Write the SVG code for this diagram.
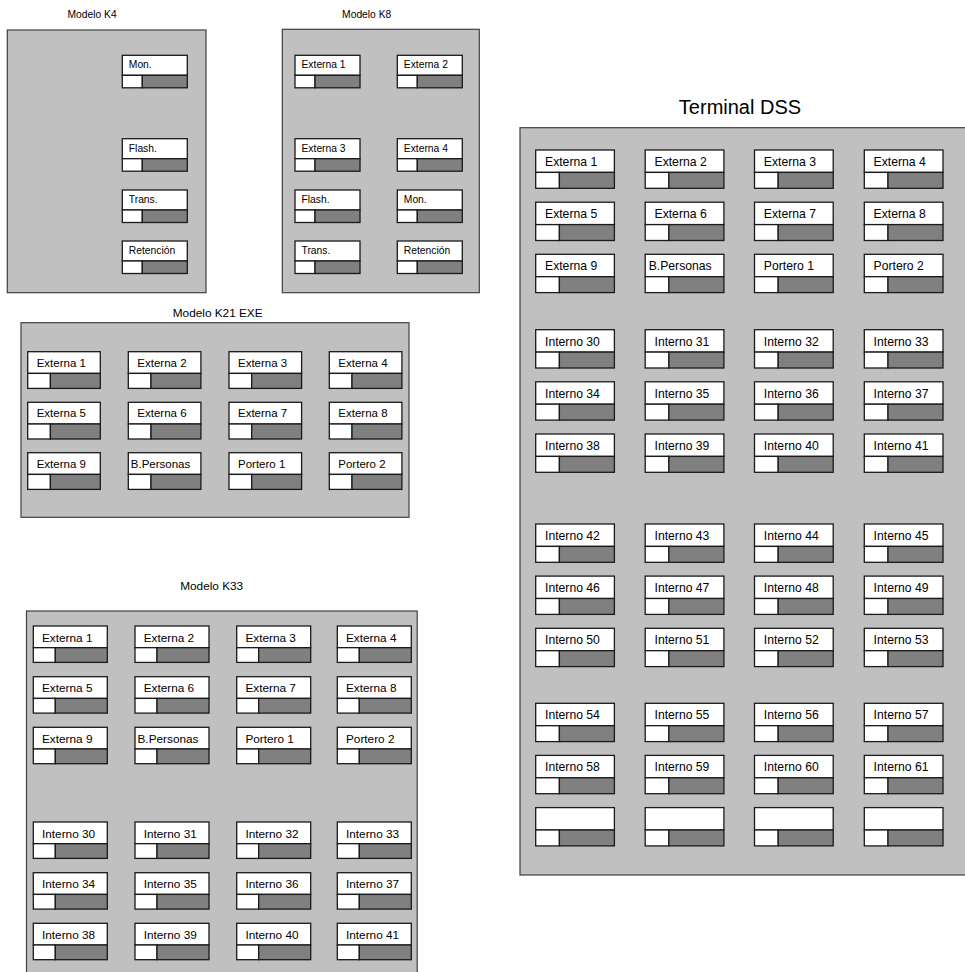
<svg xmlns="http://www.w3.org/2000/svg" xmlns:xlink="http://www.w3.org/1999/xlink" width="965" height="972" viewBox="0 0 965 972">
<style>
.panel{fill:#c0c0c0;stroke:#404040;stroke-width:1.2}
.lab{fill:#ffffff;stroke:#1a1a1a;stroke-width:1.3}
.bar{fill:#808080;stroke:#1a1a1a;stroke-width:1.3}
text{font-family:"Liberation Sans",Arial,sans-serif;fill:#000}
.t4{font-size:10.3px}
.t21{font-size:11.5px}
.t33{font-size:11.8px}
.tD{font-size:12.2px}
.title{font-size:10.3px;text-anchor:middle}
.title2{font-size:11.8px;text-anchor:middle}
.bigtitle{font-size:20px;text-anchor:middle}
</style>
<defs>
<g id="bK4"><rect class="lab" x="0" y="0" width="65" height="20"/><rect class="lab" x="0" y="20" width="20" height="12.5"/><rect class="bar" x="20" y="20" width="45" height="12.5"/></g>
<g id="bK21"><rect class="lab" x="0" y="0" width="72.6" height="21.7"/><rect class="lab" x="0" y="21.7" width="22.7" height="15"/><rect class="bar" x="22.7" y="21.7" width="49.9" height="15"/></g>
<g id="bK33"><rect class="lab" x="0" y="0" width="74" height="21.7"/><rect class="lab" x="0" y="21.7" width="22" height="14.7"/><rect class="bar" x="22" y="21.7" width="52" height="14.7"/></g>
<g id="bD"><rect class="lab" x="0" y="0" width="78.7" height="22.4"/><rect class="lab" x="0" y="22.4" width="23.7" height="15.9"/><rect class="bar" x="23.7" y="22.4" width="55" height="15.9"/></g>
</defs>

<g id="K4">
<text class="title" x="92" y="18">Modelo K4</text>
<rect class="panel" x="7.3" y="30" width="198.7" height="262.7"/>
<g id="K4-mon" transform="translate(122.3,55.3)"><use xlink:href="#bK4"/><text class="t4" x="6.5" y="13">Mon.</text></g>
<g id="K4-flash" transform="translate(122.3,138.7)"><use xlink:href="#bK4"/><text class="t4" x="6.5" y="13">Flash.</text></g>
<g id="K4-trans" transform="translate(122.3,190)"><use xlink:href="#bK4"/><text class="t4" x="6.5" y="13">Trans.</text></g>
<g id="K4-ret" transform="translate(122.3,241)"><use xlink:href="#bK4"/><text class="t4" x="6.5" y="13">Retención</text></g>
</g>

<g id="K8">
<text class="title" x="366.7" y="18">Modelo K8</text>
<rect class="panel" x="282.3" y="29.3" width="197" height="263.4"/>
<g id="K8-e1" transform="translate(295,55.3)"><use xlink:href="#bK4"/><text class="t4" x="6.5" y="13">Externa 1</text></g>
<g id="K8-e2" transform="translate(397.3,55.3)"><use xlink:href="#bK4"/><text class="t4" x="6.5" y="13">Externa 2</text></g>
<g id="K8-e3" transform="translate(295,138.7)"><use xlink:href="#bK4"/><text class="t4" x="6.5" y="13">Externa 3</text></g>
<g id="K8-e4" transform="translate(397.3,138.7)"><use xlink:href="#bK4"/><text class="t4" x="6.5" y="13">Externa 4</text></g>
<g id="K8-flash" transform="translate(295,190)"><use xlink:href="#bK4"/><text class="t4" x="6.5" y="13">Flash.</text></g>
<g id="K8-mon" transform="translate(397.3,190)"><use xlink:href="#bK4"/><text class="t4" x="6.5" y="13">Mon.</text></g>
<g id="K8-trans" transform="translate(295,241)"><use xlink:href="#bK4"/><text class="t4" x="6.5" y="13">Trans.</text></g>
<g id="K8-ret" transform="translate(397.3,241)"><use xlink:href="#bK4"/><text class="t4" x="6.5" y="13">Retención</text></g>
</g>

<g id="K21">
<text class="title2" x="217.7" y="316.5">Modelo K21 EXE</text>
<rect class="panel" x="21" y="322.7" width="388" height="194.6"/>
<g id="K21-e1" transform="translate(27.7,351.7)"><use xlink:href="#bK21"/><text class="t21" x="9" y="15">Externa 1</text></g>
<g id="K21-e2" transform="translate(128.3,351.7)"><use xlink:href="#bK21"/><text class="t21" x="9" y="15">Externa 2</text></g>
<g id="K21-e3" transform="translate(229,351.7)"><use xlink:href="#bK21"/><text class="t21" x="9" y="15">Externa 3</text></g>
<g id="K21-e4" transform="translate(329.3,351.7)"><use xlink:href="#bK21"/><text class="t21" x="9" y="15">Externa 4</text></g>
<g id="K21-e5" transform="translate(27.7,402.3)"><use xlink:href="#bK21"/><text class="t21" x="9" y="15">Externa 5</text></g>
<g id="K21-e6" transform="translate(128.3,402.3)"><use xlink:href="#bK21"/><text class="t21" x="9" y="15">Externa 6</text></g>
<g id="K21-e7" transform="translate(229,402.3)"><use xlink:href="#bK21"/><text class="t21" x="9" y="15">Externa 7</text></g>
<g id="K21-e8" transform="translate(329.3,402.3)"><use xlink:href="#bK21"/><text class="t21" x="9" y="15">Externa 8</text></g>
<g id="K21-e9" transform="translate(27.7,452.7)"><use xlink:href="#bK21"/><text class="t21" x="9" y="15">Externa 9</text></g>
<g id="K21-bp" transform="translate(128.3,452.7)"><use xlink:href="#bK21"/><text class="t21" x="2.5" y="15">B.Personas</text></g>
<g id="K21-p1" transform="translate(229,452.7)"><use xlink:href="#bK21"/><text class="t21" x="9" y="15">Portero 1</text></g>
<g id="K21-p2" transform="translate(329.3,452.7)"><use xlink:href="#bK21"/><text class="t21" x="9" y="15">Portero 2</text></g>
</g>

<g id="K33">
<text class="title2" x="211.7" y="590">Modelo K33</text>
<rect class="panel" x="26.5" y="611" width="390.7" height="400"/>
<g id="K33-e1" transform="translate(33.3,626)"><use xlink:href="#bK33"/><text class="t33" x="8.7" y="15.7">Externa 1</text></g>
<g id="K33-e2" transform="translate(135,626)"><use xlink:href="#bK33"/><text class="t33" x="8.7" y="15.7">Externa 2</text></g>
<g id="K33-e3" transform="translate(236.7,626)"><use xlink:href="#bK33"/><text class="t33" x="8.7" y="15.7">Externa 3</text></g>
<g id="K33-e4" transform="translate(337.3,626)"><use xlink:href="#bK33"/><text class="t33" x="8.7" y="15.7">Externa 4</text></g>
<g id="K33-e5" transform="translate(33.3,676.7)"><use xlink:href="#bK33"/><text class="t33" x="8.7" y="15.7">Externa 5</text></g>
<g id="K33-e6" transform="translate(135,676.7)"><use xlink:href="#bK33"/><text class="t33" x="8.7" y="15.7">Externa 6</text></g>
<g id="K33-e7" transform="translate(236.7,676.7)"><use xlink:href="#bK33"/><text class="t33" x="8.7" y="15.7">Externa 7</text></g>
<g id="K33-e8" transform="translate(337.3,676.7)"><use xlink:href="#bK33"/><text class="t33" x="8.7" y="15.7">Externa 8</text></g>
<g id="K33-e9" transform="translate(33.3,727.3)"><use xlink:href="#bK33"/><text class="t33" x="8.7" y="15.7">Externa 9</text></g>
<g id="K33-bp" transform="translate(135,727.3)"><use xlink:href="#bK33"/><text class="t33" x="2.5" y="15.7">B.Personas</text></g>
<g id="K33-p1" transform="translate(236.7,727.3)"><use xlink:href="#bK33"/><text class="t33" x="8.7" y="15.7">Portero 1</text></g>
<g id="K33-p2" transform="translate(337.3,727.3)"><use xlink:href="#bK33"/><text class="t33" x="8.7" y="15.7">Portero 2</text></g>
<g id="K33-i30" transform="translate(33.3,822)"><use xlink:href="#bK33"/><text class="t33" x="8.7" y="15.7">Interno 30</text></g>
<g id="K33-i31" transform="translate(135,822)"><use xlink:href="#bK33"/><text class="t33" x="8.7" y="15.7">Interno 31</text></g>
<g id="K33-i32" transform="translate(236.7,822)"><use xlink:href="#bK33"/><text class="t33" x="8.7" y="15.7">Interno 32</text></g>
<g id="K33-i33" transform="translate(337.3,822)"><use xlink:href="#bK33"/><text class="t33" x="8.7" y="15.7">Interno 33</text></g>
<g id="K33-i34" transform="translate(33.3,872.7)"><use xlink:href="#bK33"/><text class="t33" x="8.7" y="15.7">Interno 34</text></g>
<g id="K33-i35" transform="translate(135,872.7)"><use xlink:href="#bK33"/><text class="t33" x="8.7" y="15.7">Interno 35</text></g>
<g id="K33-i36" transform="translate(236.7,872.7)"><use xlink:href="#bK33"/><text class="t33" x="8.7" y="15.7">Interno 36</text></g>
<g id="K33-i37" transform="translate(337.3,872.7)"><use xlink:href="#bK33"/><text class="t33" x="8.7" y="15.7">Interno 37</text></g>
<g id="K33-i38" transform="translate(33.3,923.3)"><use xlink:href="#bK33"/><text class="t33" x="8.7" y="15.7">Interno 38</text></g>
<g id="K33-i39" transform="translate(135,923.3)"><use xlink:href="#bK33"/><text class="t33" x="8.7" y="15.7">Interno 39</text></g>
<g id="K33-i40" transform="translate(236.7,923.3)"><use xlink:href="#bK33"/><text class="t33" x="8.7" y="15.7">Interno 40</text></g>
<g id="K33-i41" transform="translate(337.3,923.3)"><use xlink:href="#bK33"/><text class="t33" x="8.7" y="15.7">Interno 41</text></g>
</g>

<g id="DSS">
<text class="bigtitle" x="740" y="114">Terminal DSS</text>
<rect class="panel" x="520" y="127.7" width="460" height="747.3"/>
<g id="D-e1" transform="translate(535.7,150)"><use xlink:href="#bD"/><text class="tD" x="9.3" y="16">Externa 1</text></g>
<g id="D-e2" transform="translate(645.2,150)"><use xlink:href="#bD"/><text class="tD" x="9.3" y="16">Externa 2</text></g>
<g id="D-e3" transform="translate(754.5,150)"><use xlink:href="#bD"/><text class="tD" x="9.3" y="16">Externa 3</text></g>
<g id="D-e4" transform="translate(864.3,150)"><use xlink:href="#bD"/><text class="tD" x="9.3" y="16">Externa 4</text></g>
<g id="D-e5" transform="translate(535.7,202.2)"><use xlink:href="#bD"/><text class="tD" x="9.3" y="16">Externa 5</text></g>
<g id="D-e6" transform="translate(645.2,202.2)"><use xlink:href="#bD"/><text class="tD" x="9.3" y="16">Externa 6</text></g>
<g id="D-e7" transform="translate(754.5,202.2)"><use xlink:href="#bD"/><text class="tD" x="9.3" y="16">Externa 7</text></g>
<g id="D-e8" transform="translate(864.3,202.2)"><use xlink:href="#bD"/><text class="tD" x="9.3" y="16">Externa 8</text></g>
<g id="D-e9" transform="translate(535.7,254.3)"><use xlink:href="#bD"/><text class="tD" x="9.3" y="16">Externa 9</text></g>
<g id="D-bp" transform="translate(645.2,254.3)"><use xlink:href="#bD"/><text class="tD" x="3.5" y="16">B.Personas</text></g>
<g id="D-p1" transform="translate(754.5,254.3)"><use xlink:href="#bD"/><text class="tD" x="9.3" y="16">Portero 1</text></g>
<g id="D-p2" transform="translate(864.3,254.3)"><use xlink:href="#bD"/><text class="tD" x="9.3" y="16">Portero 2</text></g>
<g id="D-i30" transform="translate(535.7,329.7)"><use xlink:href="#bD"/><text class="tD" x="9.3" y="16">Interno 30</text></g>
<g id="D-i31" transform="translate(645.2,329.7)"><use xlink:href="#bD"/><text class="tD" x="9.3" y="16">Interno 31</text></g>
<g id="D-i32" transform="translate(754.5,329.7)"><use xlink:href="#bD"/><text class="tD" x="9.3" y="16">Interno 32</text></g>
<g id="D-i33" transform="translate(864.3,329.7)"><use xlink:href="#bD"/><text class="tD" x="9.3" y="16">Interno 33</text></g>
<g id="D-i34" transform="translate(535.7,381.8)"><use xlink:href="#bD"/><text class="tD" x="9.3" y="16">Interno 34</text></g>
<g id="D-i35" transform="translate(645.2,381.8)"><use xlink:href="#bD"/><text class="tD" x="9.3" y="16">Interno 35</text></g>
<g id="D-i36" transform="translate(754.5,381.8)"><use xlink:href="#bD"/><text class="tD" x="9.3" y="16">Interno 36</text></g>
<g id="D-i37" transform="translate(864.3,381.8)"><use xlink:href="#bD"/><text class="tD" x="9.3" y="16">Interno 37</text></g>
<g id="D-i38" transform="translate(535.7,434)"><use xlink:href="#bD"/><text class="tD" x="9.3" y="16">Interno 38</text></g>
<g id="D-i39" transform="translate(645.2,434)"><use xlink:href="#bD"/><text class="tD" x="9.3" y="16">Interno 39</text></g>
<g id="D-i40" transform="translate(754.5,434)"><use xlink:href="#bD"/><text class="tD" x="9.3" y="16">Interno 40</text></g>
<g id="D-i41" transform="translate(864.3,434)"><use xlink:href="#bD"/><text class="tD" x="9.3" y="16">Interno 41</text></g>
<g id="D-i42" transform="translate(535.7,524)"><use xlink:href="#bD"/><text class="tD" x="9.3" y="16">Interno 42</text></g>
<g id="D-i43" transform="translate(645.2,524)"><use xlink:href="#bD"/><text class="tD" x="9.3" y="16">Interno 43</text></g>
<g id="D-i44" transform="translate(754.5,524)"><use xlink:href="#bD"/><text class="tD" x="9.3" y="16">Interno 44</text></g>
<g id="D-i45" transform="translate(864.3,524)"><use xlink:href="#bD"/><text class="tD" x="9.3" y="16">Interno 45</text></g>
<g id="D-i46" transform="translate(535.7,576.1)"><use xlink:href="#bD"/><text class="tD" x="9.3" y="16">Interno 46</text></g>
<g id="D-i47" transform="translate(645.2,576.1)"><use xlink:href="#bD"/><text class="tD" x="9.3" y="16">Interno 47</text></g>
<g id="D-i48" transform="translate(754.5,576.1)"><use xlink:href="#bD"/><text class="tD" x="9.3" y="16">Interno 48</text></g>
<g id="D-i49" transform="translate(864.3,576.1)"><use xlink:href="#bD"/><text class="tD" x="9.3" y="16">Interno 49</text></g>
<g id="D-i50" transform="translate(535.7,628.3)"><use xlink:href="#bD"/><text class="tD" x="9.3" y="16">Interno 50</text></g>
<g id="D-i51" transform="translate(645.2,628.3)"><use xlink:href="#bD"/><text class="tD" x="9.3" y="16">Interno 51</text></g>
<g id="D-i52" transform="translate(754.5,628.3)"><use xlink:href="#bD"/><text class="tD" x="9.3" y="16">Interno 52</text></g>
<g id="D-i53" transform="translate(864.3,628.3)"><use xlink:href="#bD"/><text class="tD" x="9.3" y="16">Interno 53</text></g>
<g id="D-i54" transform="translate(535.7,703.3)"><use xlink:href="#bD"/><text class="tD" x="9.3" y="16">Interno 54</text></g>
<g id="D-i55" transform="translate(645.2,703.3)"><use xlink:href="#bD"/><text class="tD" x="9.3" y="16">Interno 55</text></g>
<g id="D-i56" transform="translate(754.5,703.3)"><use xlink:href="#bD"/><text class="tD" x="9.3" y="16">Interno 56</text></g>
<g id="D-i57" transform="translate(864.3,703.3)"><use xlink:href="#bD"/><text class="tD" x="9.3" y="16">Interno 57</text></g>
<g id="D-i58" transform="translate(535.7,755.4)"><use xlink:href="#bD"/><text class="tD" x="9.3" y="16">Interno 58</text></g>
<g id="D-i59" transform="translate(645.2,755.4)"><use xlink:href="#bD"/><text class="tD" x="9.3" y="16">Interno 59</text></g>
<g id="D-i60" transform="translate(754.5,755.4)"><use xlink:href="#bD"/><text class="tD" x="9.3" y="16">Interno 60</text></g>
<g id="D-i61" transform="translate(864.3,755.4)"><use xlink:href="#bD"/><text class="tD" x="9.3" y="16">Interno 61</text></g>
<g id="D-x1" transform="translate(535.7,807.6)"><use xlink:href="#bD"/></g>
<g id="D-x2" transform="translate(645.2,807.6)"><use xlink:href="#bD"/></g>
<g id="D-x3" transform="translate(754.5,807.6)"><use xlink:href="#bD"/></g>
<g id="D-x4" transform="translate(864.3,807.6)"><use xlink:href="#bD"/></g>
</g>

<g id="connectors"/>
</svg>
